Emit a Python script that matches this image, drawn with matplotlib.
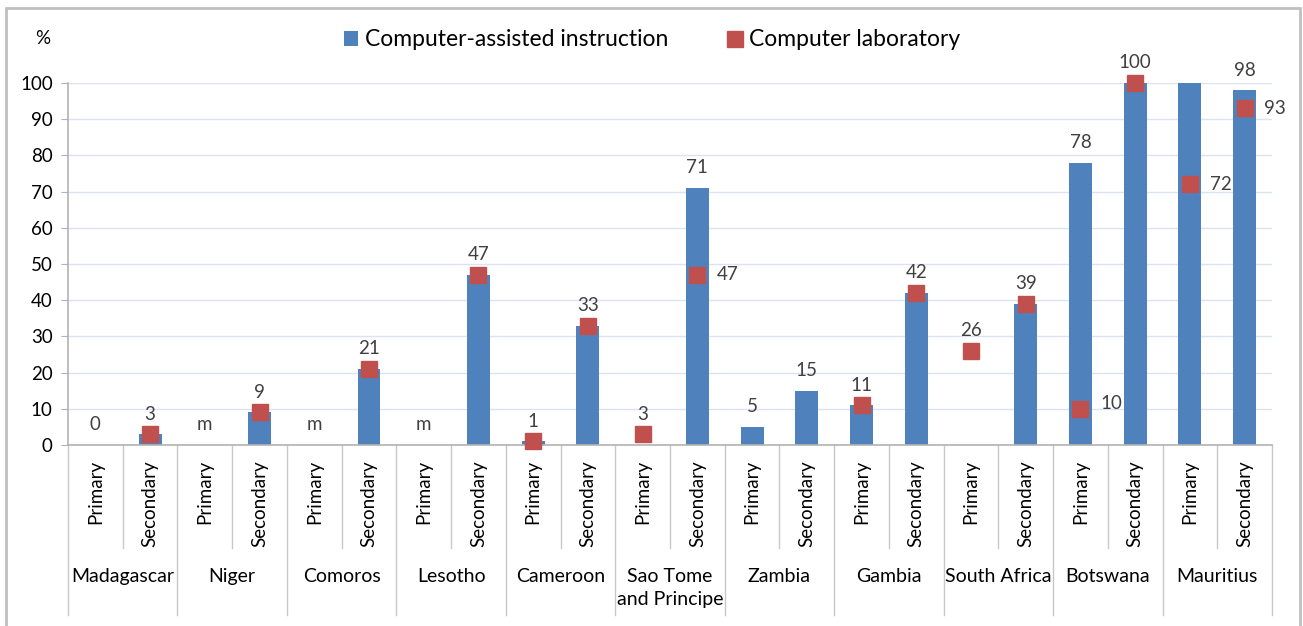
import numpy as np
import matplotlib
matplotlib.use("Agg")
import matplotlib.pyplot as plt
from matplotlib.patches import Rectangle

plt.rcParams['font.family'] = ['Lato', 'DejaVu Sans']

countries = ["Madagascar", "Niger", "Comoros", "Lesotho", "Cameroon",
             "Sao Tome\nand Principe", "Zambia", "Gambia", "South Africa",
             "Botswana", "Mauritius"]
levels = ["Primary", "Secondary"]
nan = np.nan
cai = [0, 3, nan, 9, nan, 21, nan, 47, 1, 33, nan, 71, 5, 15, 11, 42, nan, 39, 78, 100, 100, 98]
lab = [nan, 3, nan, 9, nan, 21, nan, 47, 1, 33, 3, 47, nan, nan, 11, 42, 26, 39, 10, 100, 72, 93]
top_labels = ["0", "3", "m", "9", "m", "21", "m", "47", "1", "33", "3", "71",
              "5", "15", "11", "42", "26", "39", "78", "100", "", "98"]
side_labels = ["", "", "", "", "", "", "", "", "", "", "", "47",
               "", "", "", "", "", "", "10", "", "72", "93"]

BLUE = "#4f81bd"
RED = "#c0504d"
GRID = "#d9e3f1"
AXC = "#b3b3b3"
TXT = "#404040"

fig = plt.figure(figsize=(13.03, 6.26), dpi=100)
ax = fig.add_axes([68/1303, 1-445/626, (1272-68)/1303, (445-83)/626])

n = len(cai)
x = np.arange(n)
bars = ax.bar(x, cai, width=0.42, color=BLUE, zorder=2, label="Computer-assisted instruction")
mk, = ax.plot(x, lab, linestyle="none", marker="s", markersize=12, color=RED,
              zorder=3, clip_on=False, label="Computer laboratory")

ax.set_xlim(-0.5, n - 0.5)
ax.set_ylim(0, 100)
ax.set_yticks(np.arange(0, 101, 10))
ax.yaxis.grid(True, color=GRID, linewidth=1)
ax.set_axisbelow(True)
for s in ["top", "right"]:
    ax.spines[s].set_visible(False)
ax.spines["left"].set_color(AXC)
ax.spines["bottom"].set_color(AXC)
ax.spines["left"].set_linewidth(1.2)
ax.spines["bottom"].set_linewidth(1.2)
ax.tick_params(axis="y", length=5, color=AXC, labelsize=13.5, labelcolor="#000000", pad=6)
ax.set_xticks([])

# value labels
for i in range(n):
    t = top_labels[i]
    if t:
        if not np.isnan(cai[i]):
            base = cai[i]
        elif not np.isnan(lab[i]):
            base = lab[i]
        else:
            base = 0
        ax.annotate(t, (x[i], base), xytext=(0, 14.5), textcoords="offset points",
                    ha="center", va="center", fontsize=13.5, color=TXT, annotation_clip=False)
    s = side_labels[i]
    if s:
        ax.annotate(s, (x[i], lab[i]), xytext=(22, 3.5 if lab[i] < 20 else 0), textcoords="offset points",
                    ha="center", va="center", fontsize=13.5, color=TXT, annotation_clip=False)

# category axis
tr = ax.get_xaxis_transform()
y_inner = -(548-445)/362
y_outer = -(615-445)/362
for i in range(n + 1):
    xb = i - 0.5
    yb = y_outer if i % 2 == 0 else y_inner
    ax.plot([xb, xb], [0, yb], transform=tr, color="#c8c8c8", lw=1, clip_on=False)
for i in range(n):
    ax.text(x[i], -15/362, levels[i % 2], transform=tr, rotation=90, ha="center", va="top",
            fontsize=13.5, color="#000000")
for j, c in enumerate(countries):
    ax.text(2*j + 0.5, -(568-445)/362, c, transform=tr, ha="center", va="top",
            fontsize=14, color="#000000", linespacing=1.4)

fig.text(43/1303, 1-38/626, "%", ha="center", va="center", fontsize=13.5)

fig.legend(handles=[bars, mk], loc="center", bbox_to_anchor=(652/1303, 1-40/626),
           ncol=2, frameon=False, fontsize=16.5, handlelength=0.6, handleheight=0.6,
           handletextpad=0.3, columnspacing=2.6, markerscale=1.0)

fig.patches.append(Rectangle((6/1303, -0.1), (1300-6)/1303, 1.1 - 8/626, transform=fig.transFigure,
                             fill=False, edgecolor="#c0c0c0", linewidth=2))

fig.savefig("out.png", dpi=100)
